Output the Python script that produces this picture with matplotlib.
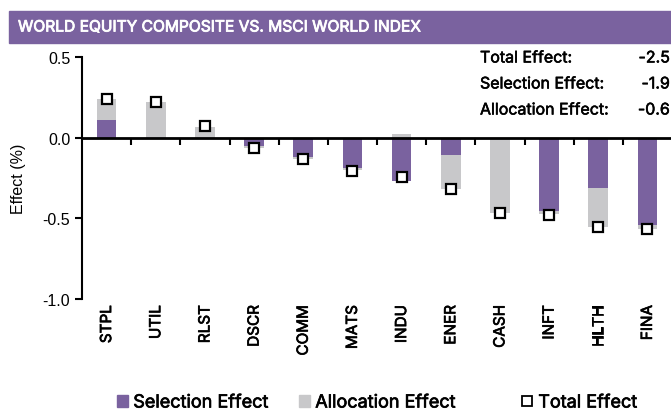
import numpy as np
import matplotlib
matplotlib.use("Agg")
import matplotlib.pyplot as plt
import matplotlib.patheffects as pe
from matplotlib.patches import Rectangle
from matplotlib.lines import Line2D
from matplotlib.transforms import blended_transform_factory

# sectors and attribution effects (%)
sectors = ["STPL", "UTIL", "RLST", "DSCR", "COMM", "MATS",
           "INDU", "ENER", "CASH", "INFT", "HLTH", "FINA"]
selection = [0.11, 0.0, 0.0, -0.05, -0.12, -0.19,
             -0.27, -0.11, 0.0, -0.455, -0.31, -0.54]
allocation = [0.13, 0.22, 0.066, -0.015, -0.01, -0.01,
              0.025, -0.21, -0.465, -0.02, -0.245, -0.025]
total = [0.24, 0.22, 0.07, -0.065, -0.13, -0.205,
         -0.245, -0.32, -0.467, -0.48, -0.555, -0.565]

summary_labels = ["Total Effect:", "Selection Effect:", "Allocation Effect:"]
summary_values = ["-2.5", "-1.9", "-0.6"]

PURPLE = "#7a629f"
GRAY = "#c8c8ca"
FONT = "Inter"


def heavy(color="black", lw=0.5):
    # thicken regular glyphs a little to look like a medium weight
    return [pe.withStroke(linewidth=lw, foreground=color)]


fig = plt.figure(figsize=(6.71, 4.14), dpi=100)

# title banner
fig.patches.append(Rectangle((9 / 671, 1 - 44 / 414), 662 / 671, 32 / 414,
                             transform=fig.transFigure, color=PURPLE, zorder=0))
fig.text(18 / 671, 1 - 28 / 414, "WORLD EQUITY COMPOSITE VS. MSCI WORLD INDEX",
         color="white", fontsize=11.2, fontfamily=FONT,
         va="center", ha="left", path_effects=heavy("white", 0.6))

ax = fig.add_axes([82 / 671, 1 - 300 / 414, 590 / 671, 242 / 414])
x = np.arange(len(sectors))
sel = np.array(selection)
alo = np.array(allocation)
# allocation stacks on selection when both share a sign
alo_bottom = np.where(np.sign(sel) == np.sign(alo), sel, 0.0)

ax.bar(x, sel, width=0.4, color=PURPLE, zorder=2, label="Selection Effect")
ax.bar(x, alo, bottom=alo_bottom, width=0.4, color=GRAY, zorder=1,
       label="Allocation Effect")
ax.plot(x, total, ls="none", marker="s", ms=7.5, mfc="white", mec="black",
        mew=1.6, zorder=3, label="Total Effect")

ax.set_xlim(-0.5, len(sectors) - 0.5)
ax.set_ylim(-1.0, 0.5)
ax.set_yticks([0.5, 0.0, -0.5, -1.0])
ax.set_yticklabels(["0.5", "0.0", "-0.5", "-1.0"], fontfamily="Liberation Sans")
ax.tick_params(axis="y", labelsize=11.5, length=5, width=1.5, direction="out")
ax.set_ylabel("Effect (%)", fontsize=11.5, fontfamily="Liberation Sans", labelpad=12)

# x axis drawn at zero with ticks between categories
ax.spines["bottom"].set_position(("data", 0))
ax.spines["bottom"].set_linewidth(2)
ax.spines["left"].set_linewidth(1.5)
ax.spines["top"].set_visible(False)
ax.spines["right"].set_visible(False)
ax.set_xticks(np.arange(0.5, len(sectors) - 0.5, 1.0))
ax.set_xticklabels([])
ax.tick_params(axis="x", length=5, width=1.5, direction="out")

trans = blended_transform_factory(ax.transData, ax.transAxes)
for i, s in enumerate(sectors):
    ax.text(i, -0.025, s, transform=trans, rotation=90, ha="center", va="top",
            fontsize=11, fontfamily=FONT, path_effects=heavy(lw=0.5))

# summary box
for k, (lab, val) in enumerate(zip(summary_labels, summary_values)):
    yy = 1 - (59 + 26 * k) / 414
    fig.text(480 / 671, yy, lab, fontsize=11.5, fontfamily=FONT,
             va="center", ha="left", path_effects=heavy(lw=0.4))
    fig.text(670 / 671, yy, val, fontsize=11.5, fontfamily=FONT,
             va="center", ha="right", path_effects=heavy(lw=0.4))

# legend entries, one per slot, placed like the reference
handles = [Rectangle((0, 0), 1, 1, color=PURPLE),
           Rectangle((0, 0), 1, 1, color=GRAY),
           Line2D([], [], ls="none", marker="s", ms=7, mfc="white",
                  mec="black", mew=1.3)]
leg_labels = ["Selection Effect", "Allocation Effect", "Total Effect"]
leg_left = [117, 299, 522]
for h, lab, lx in zip(handles, leg_labels, leg_left):
    leg = fig.legend([h], [lab], loc="center left",
                     bbox_to_anchor=(lx / 671, 1 - 404 / 414),
                     frameon=False, prop={"family": FONT, "size": 13},
                     handlelength=0.6, handleheight=0.6, handletextpad=0.3,
                     borderpad=0, borderaxespad=0)
    for t in leg.get_texts():
        t.set_path_effects(heavy(lw=0.5))

fig.savefig("out.png", dpi=100)
